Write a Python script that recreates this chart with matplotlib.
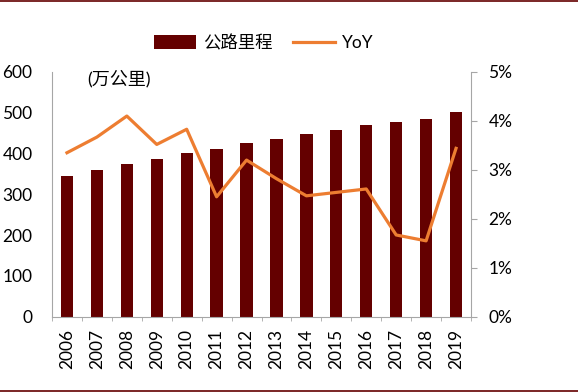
import matplotlib
matplotlib.use("Agg")
import matplotlib.pyplot as plt
import numpy as np
from matplotlib.lines import Line2D
from matplotlib.ticker import FuncFormatter, FixedLocator

plt.rcParams['font.family'] = ['Lato', 'Noto Sans CJK SC', 'DejaVu Sans']

years = ['2006', '2007', '2008', '2009', '2010', '2011', '2012',
         '2013', '2014', '2015', '2016', '2017', '2018', '2019']
mileage = [346, 359, 374, 387, 401, 411, 425, 436, 447, 458, 470, 477, 485, 501]
yoy = [3.35, 3.67, 4.10, 3.52, 3.83, 2.45, 3.20, 2.82, 2.47, 2.54, 2.61, 1.67, 1.55, 3.44]

bar_color = '#640000'
line_color = '#ED7D31'
grey = '#A6A6A6'

fig = plt.figure(figsize=(5.78, 3.92), dpi=100)
ax = fig.add_axes([52/578, 1 - 316.7/392, (471-52)/578, (316.7-72)/392])
x = np.arange(len(years))
bars = ax.bar(x, mileage, width=0.41, color=bar_color, label='公路里程', zorder=2)
ax.set_xlim(-0.5, len(years) - 0.5)
ax.set_ylim(0, 600)
ax.set_yticks(range(0, 601, 100))
ax.set_xticks(x)
ax.set_xticklabels(years, rotation=90, fontsize=12.5)
ax.xaxis.set_minor_locator(FixedLocator(np.arange(-0.5, len(years), 1)))
ax.tick_params(axis='x', which='major', length=0, pad=9)
ax.tick_params(axis='x', which='minor', length=3, color=grey, direction='out')
ax.tick_params(axis='y', length=0, pad=14, labelsize=12.5)
for s in ['top', 'right']:
    ax.spines[s].set_visible(False)
for s in ['left', 'bottom']:
    ax.spines[s].set_color(grey)

ax2 = ax.twinx()
line, = ax2.plot(x, yoy, color=line_color, lw=2.3, label='YoY', zorder=3)
ax2.set_ylim(0, 5)
ax2.set_yticks(range(0, 6))
ax2.yaxis.set_major_formatter(FuncFormatter(lambda v, p: f'{int(v)}%'))
ax2.tick_params(axis='y', length=4.5, color=grey, pad=8, labelsize=12.5)
for s in ['top', 'left', 'bottom']:
    ax2.spines[s].set_visible(False)
ax2.spines['right'].set_color(grey)

ax.text(0.085, 1.01, '(万公里)', transform=ax.transAxes, fontsize=13,
        ha='left', va='top')

fig.legend(handles=[bars, line], labels=['公路里程', 'YoY'], loc='center',
           bbox_to_anchor=(264/578, 1 - 43/392), ncol=2, frameon=False,
           fontsize=12.5, handlelength=2.4, handleheight=0.9, columnspacing=1.2,
           handletextpad=0.4)

fig.add_artist(Line2D([0, 1], [1 - 1/392, 1 - 1/392], color=bar_color, lw=1.2))
fig.add_artist(Line2D([0, 1], [1/392, 1/392], color=bar_color, lw=1.2))

fig.savefig('out.png', dpi=100)
